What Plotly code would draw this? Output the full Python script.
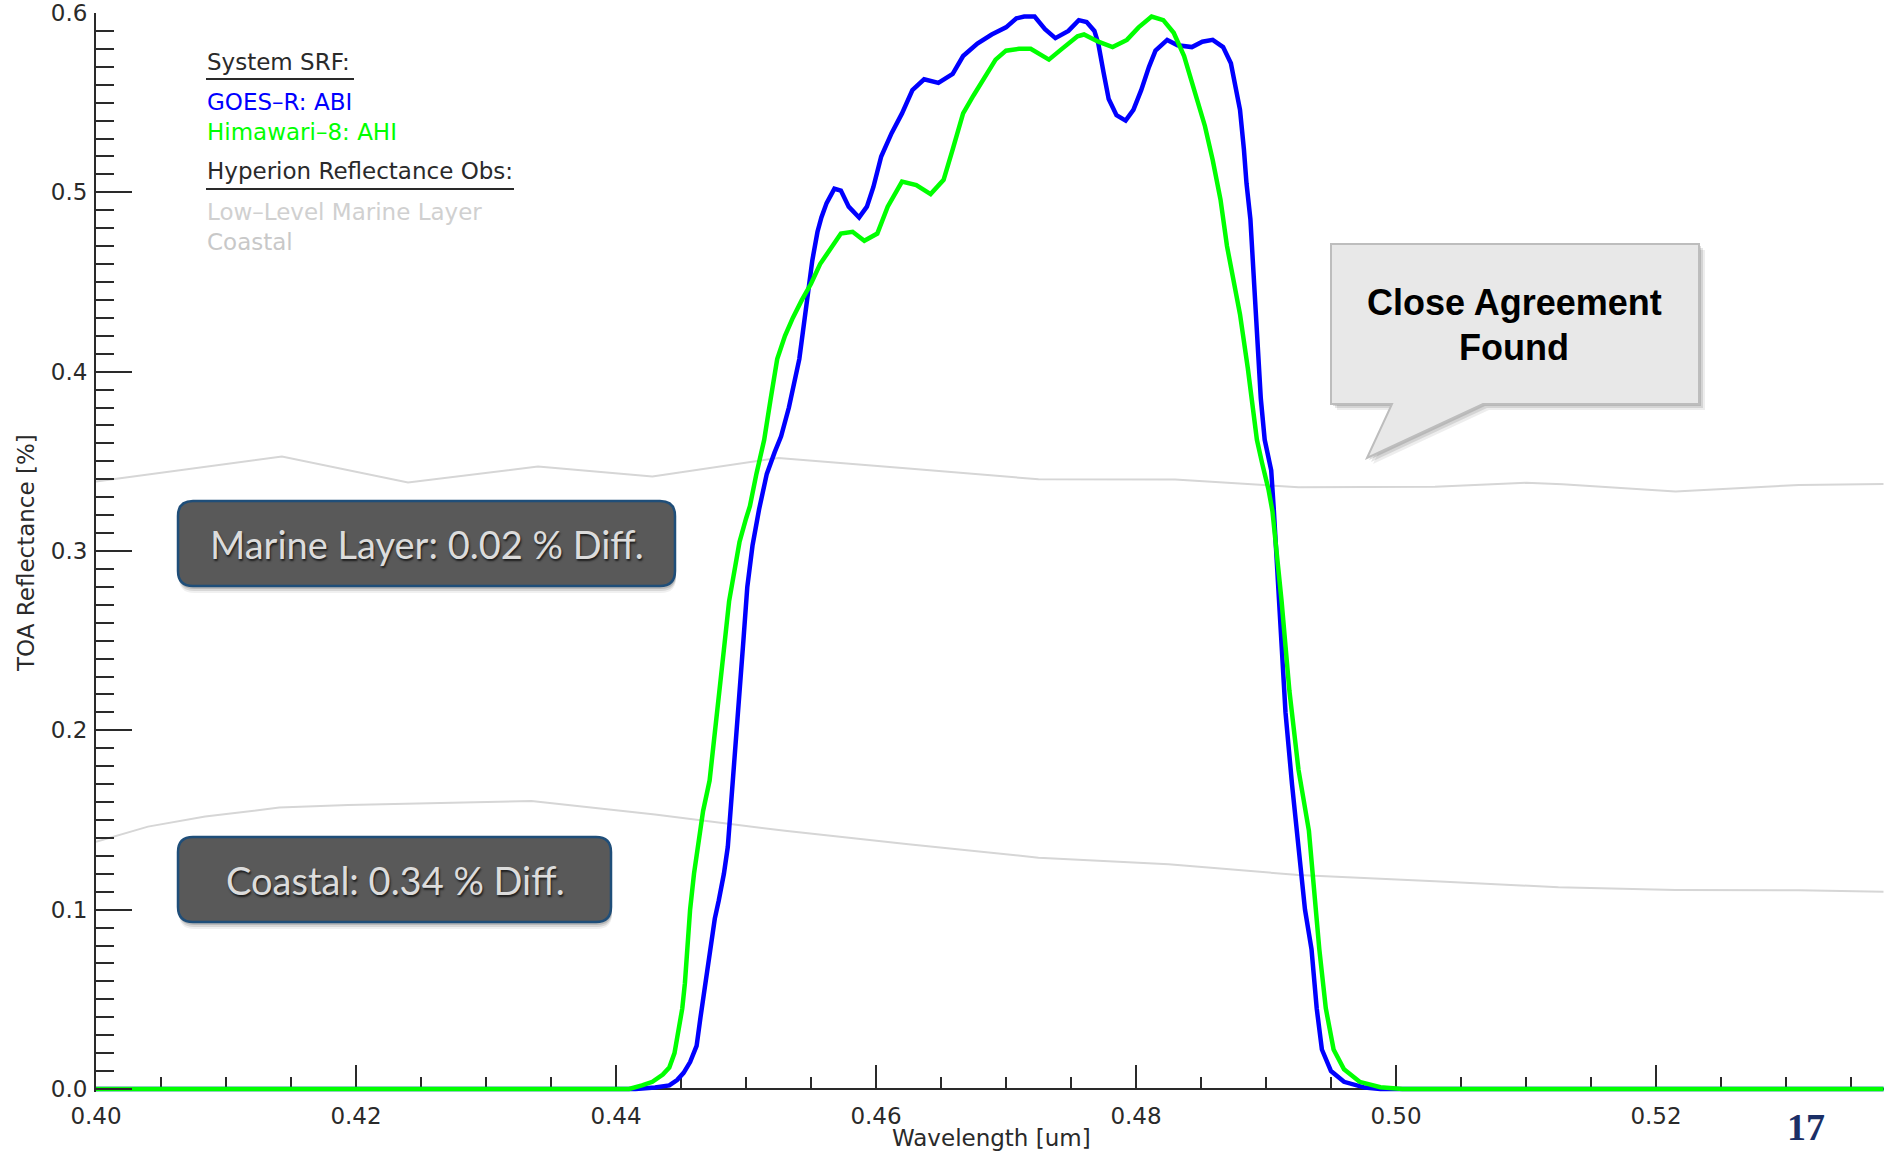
import plotly.graph_objects as go

# ---------------------------------------------------------------------------
# Spectral response functions (band 1, blue) and Hyperion TOA reflectance
# ---------------------------------------------------------------------------
abi_wl = [0.4000, 0.4415, 0.4430, 0.4441, 0.4447, 0.4452, 0.4457, 0.4462, 0.4465,
          0.4468, 0.4472, 0.4476, 0.4479, 0.4483, 0.4486, 0.4490, 0.4494, 0.4498,
          0.4501, 0.4505, 0.4510, 0.4516, 0.4522, 0.4527, 0.4533, 0.4541, 0.4547,
          0.4551, 0.4555, 0.4558, 0.4562, 0.4568, 0.4573, 0.4579, 0.4587, 0.4593,
          0.4598, 0.4604, 0.4612, 0.4620, 0.4628, 0.4637, 0.4648, 0.4659, 0.4667,
          0.4678, 0.4689, 0.4700, 0.4708, 0.4714, 0.4722, 0.4730, 0.4738, 0.4748,
          0.4756, 0.4762, 0.4768, 0.4771, 0.4775, 0.4779, 0.4785, 0.4792, 0.4798,
          0.4804, 0.4810, 0.4815, 0.4824, 0.4832, 0.4843, 0.4851, 0.4859, 0.4867,
          0.4873, 0.4876, 0.4880, 0.4883, 0.4885, 0.4888, 0.4890, 0.4893, 0.4896,
          0.4899, 0.4904, 0.4906, 0.4910, 0.4915, 0.4920, 0.4924, 0.4926, 0.4930,
          0.4935, 0.4939, 0.4943, 0.4950, 0.4960, 0.4976, 0.4988, 0.5375]
abi_srf = [0.000, 0.000, 0.0008, 0.002, 0.005, 0.009, 0.015, 0.024, 0.040,
           0.055, 0.075, 0.095, 0.105, 0.120, 0.135, 0.172, 0.205, 0.250,
           0.280, 0.303, 0.323, 0.343, 0.355, 0.364, 0.380, 0.407, 0.440,
           0.462, 0.478, 0.486, 0.494, 0.502, 0.501, 0.492, 0.486, 0.492,
           0.503, 0.520, 0.533, 0.544, 0.557, 0.563, 0.561, 0.566, 0.576,
           0.583, 0.588, 0.592, 0.597, 0.598, 0.598, 0.591, 0.586, 0.590,
           0.596, 0.595, 0.590, 0.583, 0.567, 0.552, 0.543, 0.540, 0.546,
           0.557, 0.570, 0.579, 0.585, 0.582, 0.581, 0.584, 0.585, 0.581,
           0.572, 0.561, 0.546, 0.524, 0.505, 0.485, 0.462, 0.425, 0.385,
           0.362, 0.345, 0.323, 0.272, 0.210, 0.170, 0.144, 0.126, 0.100,
           0.078, 0.045, 0.022, 0.010, 0.004, 0.0008, 0.000, 0.000]

ahi_wl = [0.4000, 0.4410, 0.4420, 0.4428, 0.4436, 0.4441, 0.4445, 0.4448, 0.4451,
          0.4453, 0.4455, 0.4457, 0.4460, 0.4463, 0.4467, 0.4472, 0.4478, 0.4483,
          0.4487, 0.4491, 0.4495, 0.4500, 0.4503, 0.4508, 0.4514, 0.4519, 0.4524,
          0.4530, 0.4536, 0.4543, 0.4550, 0.4557, 0.4565, 0.4573, 0.4582, 0.4591,
          0.4601, 0.4609, 0.4620, 0.4631, 0.4642, 0.4652, 0.4659, 0.4667, 0.4675,
          0.4683, 0.4692, 0.4700, 0.4710, 0.4719, 0.4726, 0.4733, 0.4743, 0.4755,
          0.4760, 0.4771, 0.4782, 0.4793, 0.4802, 0.4812, 0.4821, 0.4829, 0.4837,
          0.4845, 0.4853, 0.4859, 0.4865, 0.4870, 0.4875, 0.4880, 0.4886, 0.4893,
          0.4897, 0.4902, 0.4905, 0.4912, 0.4918, 0.4925, 0.4933, 0.4936, 0.4939,
          0.4941, 0.4946, 0.4952, 0.4960, 0.4972, 0.4988, 0.5005, 0.5375]
ahi_srf = [0.000, 0.000, 0.002, 0.004, 0.008, 0.012, 0.020, 0.031, 0.045,
           0.059, 0.078, 0.100, 0.120, 0.137, 0.155, 0.172, 0.215, 0.245,
           0.272, 0.290, 0.305, 0.318, 0.325, 0.343, 0.362, 0.385, 0.407,
           0.420, 0.430, 0.440, 0.449, 0.460, 0.469, 0.477, 0.478, 0.473,
           0.477, 0.492, 0.506, 0.504, 0.499, 0.507, 0.524, 0.544, 0.554,
           0.563, 0.574, 0.579, 0.580, 0.580, 0.577, 0.574, 0.580, 0.587,
           0.588, 0.584, 0.581, 0.585, 0.592, 0.598, 0.596, 0.589, 0.576,
           0.557, 0.537, 0.518, 0.496, 0.470, 0.452, 0.432, 0.402, 0.362,
           0.349, 0.334, 0.322, 0.272, 0.222, 0.178, 0.144, 0.120, 0.098,
           0.078, 0.045, 0.022, 0.011, 0.004, 0.001, 0.000, 0.000]

marine_wl = [0.4000, 0.4143, 0.4240, 0.4340, 0.4428, 0.4525, 0.4625, 0.4725,
             0.4830, 0.4925, 0.5030, 0.5100, 0.5128, 0.5215, 0.5310, 0.5375]
marine_refl = [0.3387, 0.3527, 0.3382, 0.3471, 0.3415, 0.3519, 0.3460, 0.3400,
               0.3398, 0.3356, 0.3358, 0.3380, 0.3372, 0.3332, 0.3368, 0.3373]

coastal_wl = [0.4000, 0.4040, 0.4084, 0.4141, 0.4194, 0.4265, 0.4335, 0.4430, 0.4530,
              0.4625, 0.4725, 0.4825, 0.4925, 0.5030, 0.5125, 0.5215, 0.5310, 0.5375]
coastal_refl = [0.1379, 0.1463, 0.1519, 0.1569, 0.1584, 0.1593, 0.1606, 0.1530, 0.1440,
                0.1365, 0.1290, 0.1253, 0.1193, 0.1158, 0.1125, 0.1110, 0.1108, 0.1100]

x_ticks = [0.40, 0.42, 0.44, 0.46, 0.48, 0.50, 0.52]
x_tick_text = ["0.40", "0.42", "0.44", "0.46", "0.48", "0.50", "0.52"]
y_ticks = [0.0, 0.1, 0.2, 0.3, 0.4, 0.5, 0.6]
y_tick_text = ["0.0", "0.1", "0.2", "0.3", "0.4", "0.5", "0.6"]

# ---------------------------------------------------------------------------
# Canvas geometry (pixels) and helpers to place decorations in paper space
# ---------------------------------------------------------------------------
W, H = 1884, 1152
L, R, T, B = 96, 0, 13, 60
PW, PH = W - L - R, H - T - B
X_RANGE = [0.40, 0.40 + PW / 13000.0]
Y_RANGE = [0.60 - PH / 1793.3, 0.60]


def px(xp):
    return (xp - L) / PW


def py(yp):
    return (H - B - yp) / PH


def rounded_rect(x0, y0, x1, y1, r):
    return (f"M {px(x0 + r)},{py(y0)} L {px(x1 - r)},{py(y0)} "
            f"Q {px(x1)},{py(y0)} {px(x1)},{py(y0 + r)} L {px(x1)},{py(y1 - r)} "
            f"Q {px(x1)},{py(y1)} {px(x1 - r)},{py(y1)} L {px(x0 + r)},{py(y1)} "
            f"Q {px(x0)},{py(y1)} {px(x0)},{py(y1 - r)} L {px(x0)},{py(y0 + r)} "
            f"Q {px(x0)},{py(y0)} {px(x0 + r)},{py(y0)} Z")


def poly(points):
    return "M " + " L ".join(f"{px(a)},{py(b)}" for a, b in points) + " Z"


AXIS_FONT = "DejaVu Sans"
INK = "#2a2a2a"
FS = 23

fig = go.Figure()

fig.add_trace(go.Scatter(x=marine_wl, y=marine_refl, mode="lines",
                         line=dict(color="#d6d6d6", width=2), hoverinfo="skip"))
fig.add_trace(go.Scatter(x=coastal_wl, y=coastal_refl, mode="lines",
                         line=dict(color="#d6d6d6", width=2), hoverinfo="skip"))
fig.add_trace(go.Scatter(x=abi_wl, y=abi_srf, mode="lines",
                         line=dict(color="#0000ff", width=4.5)))
fig.add_trace(go.Scatter(x=ahi_wl, y=ahi_srf, mode="lines",
                         line=dict(color="#00ff00", width=4.5)))

tick_common = dict(ticks="inside", tickwidth=2, tickcolor=INK, showgrid=False,
                   zeroline=False, linecolor=INK, linewidth=2)

fig.update_layout(
    width=W, height=H,
    margin=dict(l=L, r=R, t=T, b=B, pad=0),
    paper_bgcolor="white", plot_bgcolor="white",
    showlegend=False,
    font=dict(family=AXIS_FONT, size=FS, color=INK),
    xaxis=dict(range=X_RANGE, tickvals=x_ticks, ticktext=x_tick_text,
               ticklen=23, showline=True, anchor="free", position=py(H - B - 3),
               layer="below traces", ticklabelstandoff=6,
               tickfont=dict(family=AXIS_FONT, size=FS, color=INK),
               minor=dict(dtick=0.005, tick0=0.40, ticklen=11, tickwidth=2,
                          tickcolor=INK, ticks="inside"),
               **tick_common),
    xaxis2=dict(range=X_RANGE, overlaying="x", side="top", anchor="y",
                tickvals=x_ticks, showticklabels=False, ticklen=23, showline=True,
                minor=dict(dtick=0.005, tick0=0.40, ticklen=11, tickwidth=2,
                           tickcolor=INK, ticks="inside"),
                **tick_common),
    yaxis=dict(range=Y_RANGE, tickvals=y_ticks, ticktext=y_tick_text,
               ticklen=36, showline=True, ticklabelstandoff=2,
               tickfont=dict(family=AXIS_FONT, size=FS, color=INK),
               minor=dict(dtick=0.01, tick0=0.0, ticklen=18, tickwidth=2,
                          tickcolor=INK, ticks="inside"),
               **tick_common),
    yaxis2=dict(range=Y_RANGE, overlaying="y", side="right", anchor="x",
                tickvals=y_ticks, showticklabels=False, ticklen=34, showline=False,
                minor=dict(dtick=0.01, tick0=0.0, ticklen=16, tickwidth=2,
                           tickcolor=INK, ticks="inside"),
                ticks="inside", tickwidth=2, tickcolor=INK, showgrid=False,
                zeroline=False),
)

annotations = []
shapes = []

# axis titles
annotations.append(dict(text="Wavelength [um]", xref="paper", yref="paper",
                        x=px(991), y=py(1138), xanchor="center", yanchor="middle",
                        showarrow=False, font=dict(size=FS, color=INK)))
annotations.append(dict(text="TOA Reflectance [%]", xref="paper", yref="paper",
                        x=px(26), y=py(553), xanchor="center", yanchor="middle",
                        textangle=-90, showarrow=False, font=dict(size=FS, color=INK)))

# in-plot key
key_rows = [
    ("System SRF:", 62, INK),
    ("GOES\u2013R: ABI", 102, "#0000ff"),
    ("Himawari\u20138: AHI", 132, "#00ff00"),
    ("Hyperion Reflectance Obs:", 171, INK),
    ("Low\u2013Level Marine Layer", 212, "#d0d0d0"),
    ("Coastal", 242, "#c8c8c8"),
]
for label, yc, col in key_rows:
    annotations.append(dict(text=label, xref="paper", yref="paper", x=px(205), y=py(yc),
                            xanchor="left", yanchor="middle", showarrow=False,
                            font=dict(size=FS, color=col)))
for x0, x1, yl in [(206, 354, 79), (206, 514, 189)]:
    shapes.append(dict(type="line", xref="paper", yref="paper", x0=px(x0), x1=px(x1),
                       y0=py(yl), y1=py(yl), line=dict(color=INK, width=2)))

# dark result boxes with soft drop shadow
for (x0, y0, x1, y1, label, tx, ty) in [
        (178, 501, 675, 586, "Marine Layer: 0.02 % Diff.", 427, 544),
        (178, 837, 611, 922, "Coastal: 0.34 % Diff.", 395, 880)]:
    for d, a in [(7, 0.06), (5, 0.10), (3, 0.14)]:
        shapes.append(dict(type="path", xref="paper", yref="paper",
                           path=rounded_rect(x0 + 1, y0 + d, x1 + 1, y1 + d, 15),
                           fillcolor=f"rgba(0,0,0,{a})", line=dict(width=0)))
    shapes.append(dict(type="path", xref="paper", yref="paper",
                       path=rounded_rect(x0, y0, x1, y1, 15),
                       fillcolor="#595959", line=dict(color="#1f4e79", width=2.5)))
    annotations.append(dict(text=label, xref="paper", yref="paper", x=px(tx), y=py(ty),
                            xanchor="center", yanchor="middle", showarrow=False,
                            font=dict(family="Lato", size=38, color="#dcdcdc",
                                      shadow="1px 2px 2px #1e1e1e")))

# speech-bubble callout
bubble = [(1331, 244), (1699, 244), (1699, 404), (1483, 404), (1367, 458),
          (1392, 404), (1331, 404)]
for d, a in [(6, 0.07), (4, 0.10), (2, 0.13)]:
    shapes.append(dict(type="path", xref="paper", yref="paper",
                       path=poly([(a0 + d, b0 + d) for a0, b0 in bubble]),
                       fillcolor=f"rgba(0,0,0,{a})", line=dict(width=0)))
shapes.append(dict(type="path", xref="paper", yref="paper", path=poly(bubble),
                   fillcolor="#e8e8e8", line=dict(color="#bdbdbd", width=2)))
for label, yc in [("Close Agreement", 303), ("Found", 347)]:
    annotations.append(dict(text=f"<b>{label}</b>", xref="paper", yref="paper",
                            x=px(1514), y=py(yc), xanchor="center", yanchor="middle",
                            showarrow=False,
                            font=dict(family="Liberation Sans", size=36, color="black")))

# page number
annotations.append(dict(text="<b>17</b>", xref="paper", yref="paper", x=px(1806),
                        y=py(1127), xanchor="center", yanchor="middle", showarrow=False,
                        font=dict(family="Liberation Serif", size=38, color="#1b2f66")))

fig.update_layout(annotations=annotations, shapes=shapes)

fig.write_html("out.html")
